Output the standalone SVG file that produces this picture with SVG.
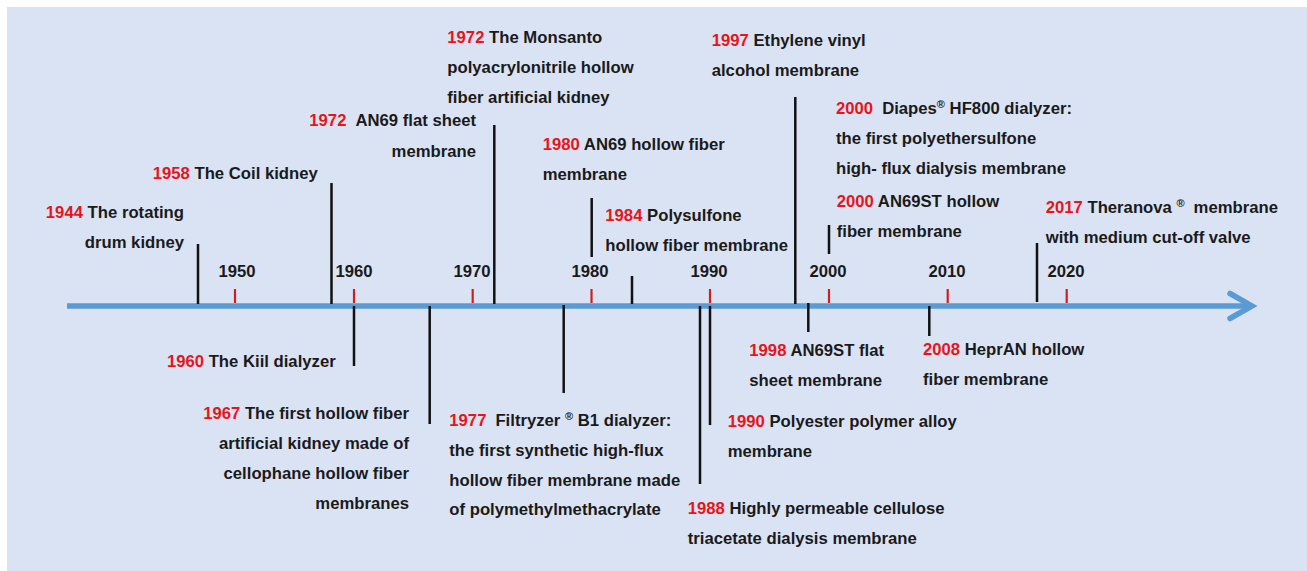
<svg xmlns="http://www.w3.org/2000/svg" width="1307" height="571" viewBox="0 0 1307 571">
<defs>
<style>
.bg{fill:#dae3f3}
text{font-family:"Liberation Sans",Arial,sans-serif;font-weight:bold;font-size:16.7px;fill:#1a1a1a}
.y{fill:#e8141c}
.e{text-anchor:end}
.m{text-anchor:middle}
.sup{font-size:11px}
.ev{stroke:#111;stroke-width:2.5;fill:none}
.tk{stroke:#d21e1e;stroke-width:2.2}
.ax{stroke:#5b9bd5;stroke-width:5.5;fill:none}
</style>
</defs>
<rect class="bg" x="7" y="7" width="1300" height="564"/>
<g id="axis">
<line class="ax" x1="67" y1="306" x2="1251" y2="306"/>
<polyline class="ax" points="1230,293.5 1252,306 1230,318.5" stroke-linecap="round" stroke-linejoin="miter"/>
<line class="tk" x1="235" y1="289" x2="235" y2="303"/>
<line class="tk" x1="354" y1="289" x2="354" y2="303"/>
<line class="tk" x1="472.7" y1="289" x2="472.7" y2="303"/>
<line class="tk" x1="591.5" y1="289" x2="591.5" y2="303"/>
<line class="tk" x1="710" y1="289" x2="710" y2="303"/>
<line class="tk" x1="829" y1="289" x2="829" y2="303"/>
<line class="tk" x1="947.7" y1="289" x2="947.7" y2="303"/>
<line class="tk" x1="1066.7" y1="289" x2="1066.7" y2="303"/>
<text class="m" x="237" y="277">1950</text>
<text class="m" x="354" y="277">1960</text>
<text class="m" x="472" y="277">1970</text>
<text class="m" x="590" y="277">1980</text>
<text class="m" x="709" y="277">1990</text>
<text class="m" x="828" y="277">2000</text>
<text class="m" x="947" y="277">2010</text>
<text class="m" x="1066" y="277">2020</text>
</g>
<g id="connectors">
<line class="ev" x1="198" y1="244" x2="198" y2="304"/>
<line class="ev" x1="331.5" y1="183" x2="331.5" y2="304"/>
<line class="ev" x1="494.3" y1="125" x2="494.3" y2="304"/>
<line class="ev" x1="591.7" y1="198" x2="591.7" y2="257"/>
<line class="ev" x1="632" y1="276" x2="632" y2="304"/>
<line class="ev" x1="795.3" y1="97" x2="795.3" y2="304"/>
<line class="ev" x1="829" y1="225" x2="829" y2="254"/>
<line class="ev" x1="1037" y1="243" x2="1037" y2="302"/>
<line class="ev" x1="354" y1="306" x2="354" y2="366"/>
<line class="ev" x1="429.7" y1="306" x2="429.7" y2="424"/>
<line class="ev" x1="563.7" y1="305" x2="563.7" y2="393"/>
<line class="ev" x1="700" y1="306" x2="700" y2="484"/>
<line class="ev" x1="710" y1="306" x2="710" y2="425"/>
<line class="ev" x1="808.3" y1="303" x2="808.3" y2="332"/>
<line class="ev" x1="929.3" y1="306" x2="929.3" y2="336"/>
</g>
<g id="e1944">
<text class="e" x="184" y="218"><tspan class="y">1944</tspan> The rotating</text>
<text class="e" x="184" y="248">drum kidney</text>
</g>
<g id="e1958">
<text x="152.7" y="179"><tspan class="y">1958</tspan> The Coil kidney</text>
</g>
<g id="e1972a">
<text class="e" x="476" y="126"><tspan class="y">1972</tspan><tspan dx="9">AN69 flat sheet</tspan></text>
<text class="e" x="476" y="156.5">membrane</text>
</g>
<g id="e1972b">
<text x="447.3" y="42.7"><tspan class="y">1972</tspan> The Monsanto</text>
<text x="447.3" y="72.7">polyacrylonitrile hollow</text>
<text x="447.3" y="102.7">fiber artificial kidney</text>
</g>
<g id="e1980">
<text x="542.7" y="150"><tspan class="y">1980</tspan> AN69 hollow fiber</text>
<text x="542.7" y="180">membrane</text>
</g>
<g id="e1984">
<text x="605.3" y="220.7"><tspan class="y">1984</tspan> Polysulfone</text>
<text x="605.3" y="250.7">hollow fiber membrane</text>
</g>
<g id="e1997">
<text x="711.7" y="45.7"><tspan class="y">1997</tspan> Ethylene vinyl</text>
<text x="711.7" y="76">alcohol membrane</text>
</g>
<g id="e2000a">
<text x="836" y="114"><tspan class="y">2000</tspan><tspan dx="9">Diapes</tspan><tspan class="sup" dy="-6">®</tspan><tspan dy="6"> HF800 dialyzer:</tspan></text>
<text x="836" y="144">the first polyethersulfone</text>
<text x="836" y="174">high- flux dialysis membrane</text>
</g>
<g id="e2000b">
<text x="836.7" y="206.7"><tspan class="y">2000</tspan> AN69ST hollow</text>
<text x="836.7" y="236.7">fiber membrane</text>
</g>
<g id="e2017">
<text x="1045.7" y="212.7"><tspan class="y">2017</tspan> Theranova <tspan class="sup" dy="-6">®</tspan><tspan dy="6" dx="9">membrane</tspan></text>
<text x="1045.7" y="242.7">with medium cut-off valve</text>
</g>
<g id="e1960">
<text class="e" x="335.7" y="366.7"><tspan class="y">1960</tspan> The Kiil dialyzer</text>
</g>
<g id="e1967">
<text class="e" x="409" y="419.3"><tspan class="y">1967</tspan> The first hollow fiber</text>
<text class="e" x="409" y="449.3">artificial kidney made of</text>
<text class="e" x="409" y="479.3">cellophane hollow fiber</text>
<text class="e" x="409" y="509.3">membranes</text>
</g>
<g id="e1977">
<text x="449.3" y="425.7"><tspan class="y">1977</tspan><tspan dx="9">Filtryzer </tspan><tspan class="sup" dy="-6">®</tspan><tspan dy="6"> B1 dialyzer:</tspan></text>
<text x="449.3" y="455.7">the first synthetic high-flux</text>
<text x="449.3" y="485.7">hollow fiber membrane made</text>
<text x="449.3" y="515.3">of polymethylmethacrylate</text>
</g>
<g id="e1998">
<text x="749.3" y="356"><tspan class="y">1998</tspan> AN69ST flat</text>
<text x="749.3" y="386">sheet membrane</text>
</g>
<g id="e1990">
<text x="727.7" y="427.3"><tspan class="y">1990</tspan> Polyester polymer alloy</text>
<text x="727.7" y="457.3">membrane</text>
</g>
<g id="e1988">
<text x="687.7" y="514.3"><tspan class="y">1988</tspan> Highly permeable cellulose</text>
<text x="687.7" y="544.3">triacetate dialysis membrane</text>
</g>
<g id="e2008">
<text x="923" y="355"><tspan class="y">2008</tspan> HeprAN hollow</text>
<text x="923" y="385">fiber membrane</text>
</g>
</svg>
